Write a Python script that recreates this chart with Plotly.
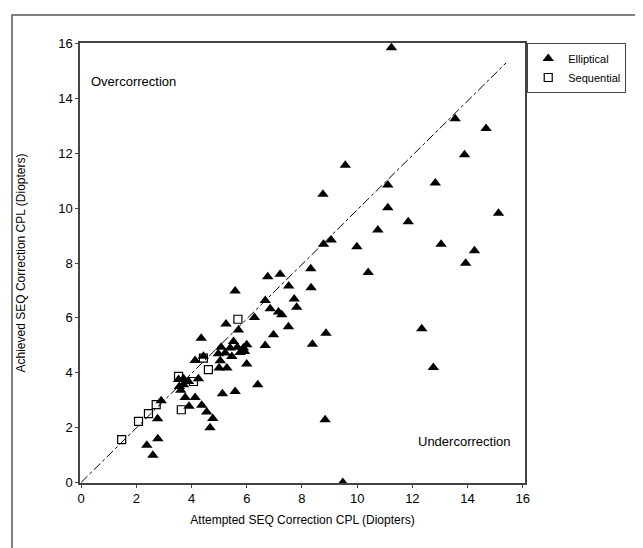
import plotly.graph_objects as go

# Elliptical (filled triangles)
ell_x = [11.24, 13.55, 14.67, 13.89, 9.57, 11.11, 12.83, 8.76, 11.11, 15.12,
         11.85, 10.75, 9.06, 8.78, 9.99, 13.04, 14.25, 13.93, 8.32, 10.40,
         6.76, 7.21, 7.52, 8.33, 7.72, 7.81, 7.27, 7.51, 8.87, 8.38,
         12.34, 12.76, 8.84, 5.58, 6.67, 6.85, 7.15, 6.28, 5.70, 5.25,
         6.97, 6.67, 4.35, 5.52, 5.07, 5.40, 5.66, 5.88, 6.00, 4.97,
         5.22, 5.46, 5.76, 5.92, 5.04, 5.00, 5.28, 6.00, 4.13, 6.40,
         5.12, 5.58, 3.53, 3.71, 4.25, 3.56, 3.71, 3.89, 3.61, 3.77,
         4.13, 3.91, 4.37, 4.55, 4.77, 4.67, 2.77, 2.90, 2.38, 2.60,
         9.48, 4.43, 2.78]
ell_y = [15.85, 13.26, 12.90, 11.95, 11.56, 10.84, 10.92, 10.51, 10.01, 9.81,
         9.50, 9.20, 8.84, 8.68, 8.59, 8.68, 8.45, 7.99, 7.79, 7.65,
         7.50, 7.59, 7.16, 7.10, 6.69, 6.39, 6.11, 5.68, 5.44, 5.04,
         5.60, 4.19, 2.29, 6.98, 6.63, 6.33, 6.21, 6.01, 5.56, 5.78,
         5.38, 4.99, 5.26, 5.14, 4.93, 4.90, 4.93, 4.90, 5.02, 4.69,
         4.72, 4.59, 4.74, 4.77, 4.44, 4.17, 4.17, 4.32, 4.45, 3.56,
         3.23, 3.32, 3.75, 3.78, 3.78, 3.50, 3.56, 3.68, 3.36, 3.10,
         3.10, 2.78, 2.81, 2.57, 2.33, 1.99, 2.32, 2.98, 1.36, 0.99,
         0.00, 4.60, 1.59]

# Sequential (open squares)
seq_x = [5.68, 4.43, 4.61, 3.53, 4.07, 3.63, 2.72, 2.44, 2.08, 1.47]
seq_y = [5.95, 4.53, 4.11, 3.87, 3.68, 2.65, 2.84, 2.51, 2.23, 1.56]

# Identity reference line
line_x = [0, 15.4]
line_y = [0, 15.3]

ticks = [0, 2, 4, 6, 8, 10, 12, 14, 16]

FONT = "Liberation Sans, Arial, sans-serif"

# figure geometry (page has an 8px body margin)
W, H = 635, 540
L, T, PW, PH = 72, 35, 445, 440

fig = go.Figure()
fig.add_trace(go.Scatter(x=line_x, y=line_y, mode="lines",
                         line=dict(color="black", width=1, dash="dashdot"),
                         showlegend=False, hoverinfo="skip"))
fig.add_trace(go.Scatter(x=ell_x, y=ell_y, mode="markers", name="Elliptical",
                         marker=dict(symbol="triangle-up", size=10, color="black")))
fig.add_trace(go.Scatter(x=seq_x, y=seq_y, mode="markers", name="Sequential",
                         marker=dict(symbol="square-open", size=8, color="black",
                                     line=dict(width=1.2, color="black"))))

fig.add_annotation(x=0.3, y=14.6, text="Overcorrection", showarrow=False,
                   xanchor="left", yanchor="middle", font=dict(size=13, color="black", family=FONT))
fig.add_annotation(x=15.65, y=1.5, text="Undercorrection", showarrow=False,
                   xanchor="right", yanchor="middle", font=dict(size=13, color="black", family=FONT))

# outer frame around the whole figure (extends past right/bottom edges)
fig.add_shape(type="rect", xref="paper", yref="paper",
              x0=(4 - L) / PW, x1=(W + 20 - L) / PW,
              y0=(T + PH - (H + 20)) / PH, y1=(T + PH - 7) / PH,
              line=dict(color="#555555", width=1.5))

axis_common = dict(showgrid=False, zeroline=False, showline=True, mirror=True,
                   linecolor="#444444", linewidth=1.5, ticks="outside", ticklen=3,
                   tickcolor="#444444", tickvals=ticks, automargin=False,
                   tickfont=dict(size=13, color="black", family=FONT))

fig.update_layout(
    width=W, height=H,
    margin=dict(l=L, r=W - L - PW, t=T, b=H - T - PH),
    plot_bgcolor="white", paper_bgcolor="white",
    font=dict(family=FONT, color="black"),
    xaxis=dict(range=[-0.04, 16.08],
               title=dict(text="Attempted SEQ Correction CPL (Diopters)",
                          font=dict(size=12, color="black"), standoff=10),
               **axis_common),
    yaxis=dict(range=[-0.02, 16.02],
               title=dict(text="Achieved SEQ Correction CPL (Diopters)",
                          font=dict(size=12, color="black"), standoff=30),
               **axis_common),
    legend=dict(x=1.005, y=1.0, xanchor="left", yanchor="top",
                bordercolor="#444444", borderwidth=1, bgcolor="white",
                font=dict(size=11, color="black", family=FONT),
                itemwidth=30, tracegroupgap=0),
)

fig.write_html("out.html")
